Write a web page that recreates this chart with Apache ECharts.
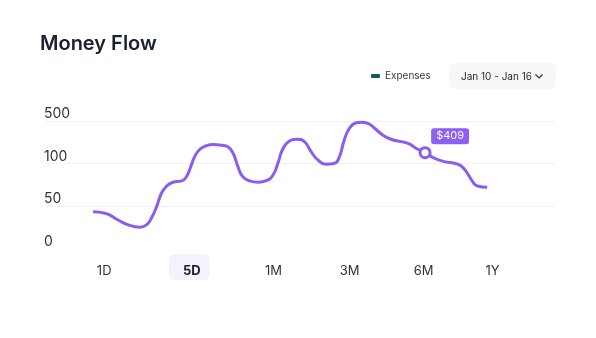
<!DOCTYPE html>
<html>
<head>
<meta charset="utf-8">
<script src="https://cdn.jsdelivr.net/npm/echarts@6/dist/echarts.min.js"></script>
<style>
  html, body { margin: 0; padding: 0; background: #ffffff; }
  #chart { width: 596px; height: 338px; }
</style>
</head>
<body>
<div id="chart"></div>
<script>
// ---- data ----
const titleText = 'Money Flow';
const seriesName = 'Expenses';
const dateRange = 'Jan 10 - Jan 16';
const rangeLabels = ['1D', '5D', '1M', '3M', '6M', '1Y'];
const rangeLabelAt = [12.3, 30.0, 47.5, 63.3, 78.7, 93.0];
const selectedRange = '5D';
const yTickLabels = ['0', '50', '100', '500'];
const flowX = [10.0, 12.5, 15.2, 17.3, 19.7, 21.1, 22.1, 23.2, 24.2, 25.3, 26.6, 28.4, 29.4, 30.3, 31.1, 32.2, 33.6, 34.9, 36.7, 38.0,
               39.1, 40.1, 41.1, 42.5, 44.3, 46.0, 47.4, 48.4, 49.4, 50.8, 52.3, 53.9, 55.3, 56.7, 58.4, 60.2, 61.2, 62.2, 63.3, 64.7,
               65.7, 67.1, 68.5, 70.2, 71.9, 74.0, 75.7, 77.1, 79.0, 80.9, 83.0, 85.1, 86.5, 87.8, 88.9, 89.9, 91.9];
const flowY = [173, 166, 134, 111, 100, 111, 142, 197, 260, 294, 312, 318, 338, 385, 432, 467, 484, 489, 486, 479,
               448, 385, 338, 318, 312, 319, 346, 401, 467, 506, 514, 503, 456, 417, 396, 401, 432, 511, 566, 592,
               594, 589, 566, 534, 514, 503, 492, 472, 451, 425, 409, 401, 388, 354, 314, 294, 288];
const markerIndex = 48;
const markerLabel = '$409';

// ---- chart ----
const FONT = 'Inter, "Noto Sans", sans-serif';
const chart = echarts.init(document.getElementById('chart'), null, { renderer: 'canvas' });

const seriesData = flowX.map(function (x, i) {
  if (i === markerIndex) {
    return {
      value: [x, flowY[i]],
      symbol: 'circle',
      symbolSize: 10,
      itemStyle: { color: '#ffffff', borderColor: '#8b5cf0', borderWidth: 3 },
      label: {
        show: true,
        position: 'inside',
        offset: [25, -16.5],
        formatter: markerLabel,
        color: '#ffffff',
        fontSize: 11,
        fontFamily: FONT,
        backgroundColor: '#8e5ff2',
        borderRadius: 3,
        padding: [3, 5, 2, 5]
      }
    };
  }
  return { value: [x, flowY[i]], symbol: 'none' };
});

chart.setOption({
  backgroundColor: '#ffffff',
  animation: false,
  textStyle: { fontFamily: FONT },
  title: {
    text: titleText,
    left: 40,
    top: 34,
    padding: 0,
    textStyle: { fontSize: 20, fontWeight: 600, color: '#1b2130', fontFamily: FONT }
  },
  legend: {
    left: 371,
    top: 71,
    padding: 0,
    itemWidth: 9,
    itemHeight: 4,
    data: [{ name: seriesName, icon: 'roundRect', itemStyle: { color: '#0f5f58' } }],
    textStyle: { fontSize: 10, color: '#3a3a3a', fontFamily: FONT },
    selectedMode: false
  },
  graphic: [
    {
      type: 'group',
      left: 449,
      top: 63,
      children: [
        { type: 'rect', shape: { x: 0, y: 0, width: 107, height: 26, r: 6 }, style: { fill: '#f7f7f8' } },
        { type: 'text', x: 12, y: 13.5, style: { text: dateRange, fill: '#2a2a2a', fontSize: 10, fontFamily: FONT, verticalAlign: 'middle' } },
        { type: 'polyline', shape: { points: [[86.5, 11.5], [90, 15], [93.5, 11.5]] }, style: { stroke: '#333333', lineWidth: 1.2, fill: null } }
      ]
    }
  ],
  grid: { left: 45, right: 41, top: 121, bottom: 89.5 },
  xAxis: {
    type: 'value',
    min: 0,
    max: 106,
    axisLine: { show: false },
    axisTick: { show: false },
    splitLine: { show: false },
    axisLabel: {
      customValues: rangeLabelAt,
      margin: 11.5,
      verticalAlign: 'top',
      formatter: function (v) {
        let best = 0;
        for (let i = 1; i < rangeLabelAt.length; i++) {
          if (Math.abs(rangeLabelAt[i] - v) < Math.abs(rangeLabelAt[best] - v)) best = i;
        }
        const t = rangeLabels[best];
        return t === selectedRange ? '{sel|' + t + '}' : '{n|' + t + '}';
      },
      rich: {
        n: { fontSize: 13, color: '#333333', fontFamily: FONT, lineHeight: 14, padding: [11, 0, 2, 0] },
        sel: { fontSize: 13, fontWeight: 'bold', color: '#1b2130', fontFamily: FONT, lineHeight: 14,
               padding: [11, 9, 2, 14], backgroundColor: '#f5f2fe', borderRadius: 6 }
      }
    }
  },
  yAxis: {
    type: 'value',
    min: 0,
    max: 600,
    interval: 200,
    axisLine: { show: false },
    axisTick: { show: false },
    axisLabel: {
      inside: true,
      margin: -1,
      verticalAlign: 'bottom',
      padding: [0, 0, 0, 0],
      fontSize: 14,
      color: '#333333',
      fontFamily: FONT,
      formatter: function (v) { return yTickLabels[Math.round(v / 200)]; }
    },
    splitLine: { show: true, lineStyle: { color: ['rgba(0,0,0,0)', '#eef3f3', '#eef3f3', '#eef3f3'], width: 1 } }
  },
  series: [
    {
      name: seriesName,
      type: 'line',
      smooth: 0.5,
      showSymbol: true,
      data: seriesData,
      lineStyle: { color: '#8b5cf0', width: 3 },
      itemStyle: { color: '#8b5cf0' },
      z: 3
    }
  ]
});
</script>
</body>
</html>
